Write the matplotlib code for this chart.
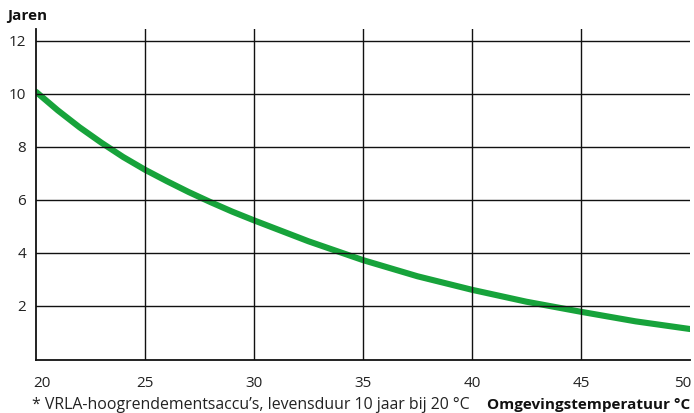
import matplotlib.pyplot as plt

# levensduur (jaren) tegen omgevingstemperatuur (°C)
temperatuur = [20, 21, 22, 23, 24, 25, 26, 27, 28, 29, 30,
               32.5, 35, 37.5, 40, 42.5, 45, 47.5, 50]
jaren = [10.1, 9.4, 8.76, 8.18, 7.64, 7.16, 6.73, 6.32, 5.94, 5.58, 5.25,
         4.46, 3.75, 3.14, 2.63, 2.18, 1.8, 1.44, 1.15]

x_ticks = [20, 25, 30, 35, 40, 45, 50]
y_ticks = [2, 4, 6, 8, 10, 12]

plt.rcParams['font.family'] = ['Open Sans', 'DejaVu Sans']

fig = plt.figure(figsize=(6.94, 4.14), dpi=100)
ax = fig.add_axes([36 / 694, 1 - 360.5 / 414, 654 / 694, 330.5 / 414])

ax.plot(temperatuur, jaren, color='#17a33b', lw=4.4,
        solid_capstyle='round', solid_joinstyle='round', zorder=2)

ax.set_xlim(20, 50)
ax.set_ylim(0, 12.47)

# raster
for t in x_ticks[1:-1]:
    ax.axvline(t, color='#111111', lw=1.0, zorder=3)
for j in y_ticks:
    ax.axhline(j, color='#111111', lw=1.0, zorder=3)

for side in ['top', 'right']:
    ax.spines[side].set_visible(False)
for side in ['left', 'bottom']:
    ax.spines[side].set_color('#111111')
    ax.spines[side].set_linewidth(1.3)

ax.set_xticks([])
ax.set_yticks([])

# aslabels
for j in y_ticks:
    ax.annotate(str(j), xy=(0, j), xycoords=('axes fraction', 'data'),
                xytext=(-10, 0), textcoords='offset pixels',
                ha='right', va='center', fontsize=11, color='#222222')
for i, t in enumerate(x_ticks):
    ha, dx = 'center', 0
    if i == 0:
        ha, dx = 'left', -3
    elif i == len(x_ticks) - 1:
        ha, dx = 'right', 1
    ax.annotate(str(t), xy=(t, 0), xycoords=('data', 'axes fraction'),
                xytext=(dx, -23), textcoords='offset pixels',
                ha=ha, va='center', fontsize=11, color='#222222')

fig.text(7 / 694, 1 - 16 / 414, 'Jaren', fontsize=11, fontweight='bold',
         ha='left', va='center', color='#111111')
fig.text(32 / 694, 1 - 405 / 414,
         '* VRLA-hoogrendementsaccu\u2019s, levensduur 10 jaar bij 20 °C',
         fontsize=11.4, ha='left', va='center', color='#222222')
fig.text(690 / 694, 1 - 405 / 414, 'Omgevingstemperatuur °C', fontsize=11,
         fontweight='bold', ha='right', va='center', color='#111111')

plt.savefig('out.png', dpi=100)
